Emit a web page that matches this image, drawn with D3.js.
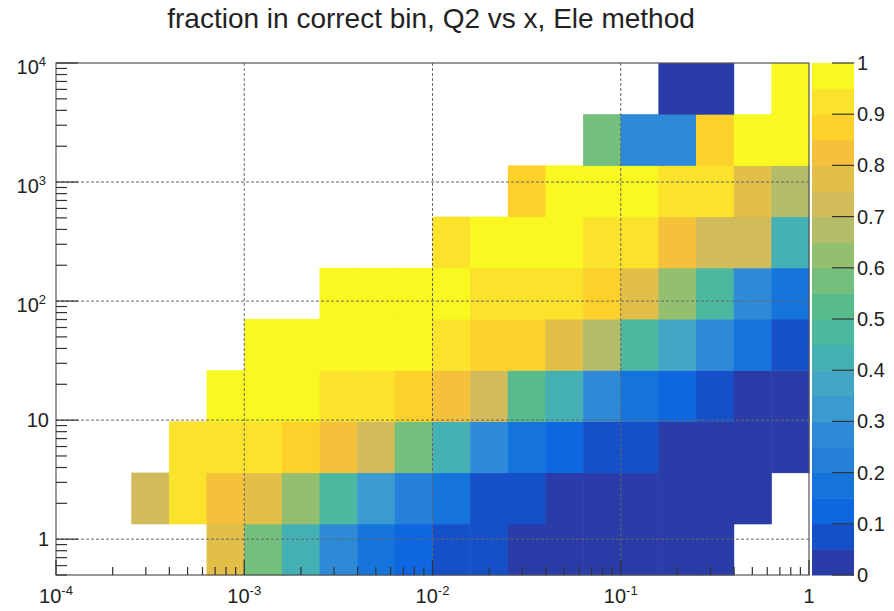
<!DOCTYPE html>
<html>
<head>
<meta charset="utf-8">
<script src="https://cdn.jsdelivr.net/npm/d3@7"></script>
<style>
  body { margin: 0; background: #fff; }
  text { font-family: "Liberation Sans", Arial, Helvetica, sans-serif; fill: #222; }
</style>
</head>
<body>
<div id="chart"></div>
<script>
// histogram binning (log-spaced)
const nx = 20, xMin = 1e-4, xMax = 1;
const ny = 10, yMin = 0.5, yMax = 1e4;

// fraction in correct bin, one array per Q2 row (bottom -> top), 20 x-bins each, null = empty
const row0 = [null, null, null, null, 0.77, 0.57, 0.42, 0.27, 0.17, 0.12, 0.07, 0.07, 0.02, 0.02, 0.02, 0.02, 0.02, 0.02, null, null];
const row1 = [null, null, 0.72, 0.92, 0.82, 0.77, 0.62, 0.47, 0.32, 0.22, 0.17, 0.07, 0.07, 0.02, 0.02, 0.02, 0.02, 0.02, 0.02, null];
const row2 = [null, null, null, 0.92, 0.92, 0.92, 0.87, 0.82, 0.72, 0.57, 0.42, 0.27, 0.17, 0.12, 0.07, 0.07, 0.02, 0.02, 0.02, 0.02];
const row3 = [null, null, null, null, 0.98, 0.98, 0.98, 0.92, 0.92, 0.87, 0.82, 0.72, 0.52, 0.42, 0.27, 0.17, 0.12, 0.07, 0.02, 0.02];
const row4 = [null, null, null, null, null, 0.98, 0.98, 0.98, 0.98, 0.98, 0.92, 0.87, 0.87, 0.77, 0.67, 0.47, 0.37, 0.27, 0.17, 0.07];
const row5 = [null, null, null, null, null, null, null, 0.98, 0.98, 0.98, 0.98, 0.92, 0.92, 0.92, 0.87, 0.77, 0.62, 0.47, 0.27, 0.17];
const row6 = [null, null, null, null, null, null, null, null, null, null, 0.92, 0.98, 0.98, 0.98, 0.92, 0.92, 0.82, 0.72, 0.72, 0.42];
const row7 = [null, null, null, null, null, null, null, null, null, null, null, null, 0.87, 0.98, 0.98, 0.98, 0.92, 0.92, 0.77, 0.67];
const row8 = [null, null, null, null, null, null, null, null, null, null, null, null, null, null, 0.57, 0.27, 0.27, 0.87, 0.98, 0.98];
const row9 = [null, null, null, null, null, null, null, null, null, null, null, null, null, null, null, null, 0.02, 0.02, null, 0.98];
const fracRows = [row0, row1, row2, row3, row4, row5, row6, row7, row8, row9];

// tick labels
const xTickVals = [1e-4, 1e-3, 1e-2, 1e-1, 1];
const xTickBase = ["10", "10", "10", "10", "1"];
const xTickExp = ["-4", "-3", "-2", "-1", null];
const yTickVals = [1, 10, 100, 1000, 10000];
const yTickBase = ["1", "10", "10", "10", "10"];
const yTickExp = [null, null, "2", "3", "4"];
const zTickVals = [0, 0.1, 0.2, 0.3, 0.4, 0.5, 0.6, 0.7, 0.8, 0.9, 1];

// 20 contour colours (bird-like palette), low -> high
const levelColors = [
  '#2a3ca8', '#1650c8', '#0e66e0', '#1474dc', '#2480d8',
  '#2e8ad6', '#3a9bd0', '#42a6c4', '#45b0b4', '#4bb89f',
  '#57bb8c', '#74be7e', '#93bf6e', '#b3bc66', '#d2bb5a',
  '#e2bf48', '#f5c13b', '#fdd12a', '#fbe22b', '#f9f820'
];
const nLevels = levelColors.length;

const W = 894, H = 611;
const padL = 56, padR = 809, padT = 63, padB = 575;
const barX0 = 812, barX1 = 854;
const labelSize = 20, expSize = 13;

let svg = d3.select('#chart').append('svg')
  .attr('width', W).attr('height', H);
svg.append('rect').attr('width', W).attr('height', H).attr('fill', '#fff');

let x = d3.scaleLog().domain([xMin, xMax]).range([padL, padR]);
let y = d3.scaleLog().domain([yMin, yMax]).range([padB, padT]);
let z = d3.scaleLinear().domain([0, 1]).range([padB, padT]);
let color = d3.scaleQuantize().domain([0, 1]).range(levelColors);

let xEdges = d3.range(nx + 1).map(i => xMin * Math.pow(xMax / xMin, i / nx));
let yEdges = d3.range(ny + 1).map(i => yMin * Math.pow(yMax / yMin, i / ny));

let cells = [];
fracRows.forEach(function (row, r) {
  row.forEach(function (v, c) {
    if (v != null) cells.push({r: r, c: c, v: v});
  });
});

// cells
svg.append('g').selectAll('rect')
  .data(cells)
  .enter().append('rect')
  .attr('x', d => x(xEdges[d.c]))
  .attr('y', d => y(yEdges[d.r + 1]))
  .attr('width', d => x(xEdges[d.c + 1]) - x(xEdges[d.c]) + 0.5)
  .attr('height', d => y(yEdges[d.r]) - y(yEdges[d.r + 1]) + 0.5)
  .attr('fill', d => color(d.v));

// grid
let grid = svg.append('g')
  .attr('stroke', '#666').attr('stroke-width', 1).attr('stroke-dasharray', '3,2').attr('fill', 'none');
xTickVals.slice(1, -1).forEach(function (v) {
  grid.append('line').attr('x1', x(v)).attr('x2', x(v)).attr('y1', padT).attr('y2', padB);
});
yTickVals.slice(0, -1).forEach(function (v) {
  grid.append('line').attr('x1', padL).attr('x2', padR).attr('y1', y(v)).attr('y2', y(v));
});

// frame
svg.append('rect')
  .attr('x', padL).attr('y', padT).attr('width', padR - padL).attr('height', padB - padT)
  .attr('fill', 'none').attr('stroke', '#555').attr('stroke-width', 1.2);

// log ticks
function logTicks(lo, hi) {
  let out = [];
  for (let e = Math.floor(Math.log10(lo)); e <= Math.ceil(Math.log10(hi)); e++) {
    for (let m = 1; m <= 9; m++) {
      let v = m * Math.pow(10, e);
      if (v >= lo * 0.999 && v <= hi * 1.001) out.push({v: v, major: m === 1});
    }
  }
  return out;
}

let ticks = svg.append('g').attr('stroke', '#333').attr('stroke-width', 1.2);
logTicks(xMin, xMax).forEach(function (t) {
  ticks.append('line')
    .attr('x1', x(t.v)).attr('x2', x(t.v))
    .attr('y1', padB).attr('y2', padB - (t.major ? 15 : 8));
});
logTicks(yMin, yMax).forEach(function (t) {
  ticks.append('line')
    .attr('x1', padL).attr('x2', padL + (t.major ? 22 : 11))
    .attr('y1', y(t.v)).attr('y2', y(t.v));
});

// axis labels with superscripts
function powLabel(base, exp) {
  let t = svg.append('text').attr('font-size', labelSize);
  t.append('tspan').text(base);
  if (exp) t.append('tspan').attr('font-size', expSize).attr('dy', -8).text(exp);
  return t;
}

xTickVals.forEach(function (v, i) {
  powLabel(xTickBase[i], xTickExp[i])
    .attr('text-anchor', 'middle')
    .attr('x', x(v)).attr('y', 603);
});
yTickVals.forEach(function (v, i) {
  powLabel(yTickBase[i], yTickExp[i])
    .attr('text-anchor', 'end')
    .attr('x', yTickExp[i] ? 46 : 49).attr('y', y(v) + (yTickExp[i] ? 11 : 7));
});

// colour bar
svg.append('g').selectAll('rect')
  .data(levelColors)
  .enter().append('rect')
  .attr('x', barX0)
  .attr('y', (c, l) => z((l + 1) / nLevels))
  .attr('width', barX1 - barX0)
  .attr('height', (c, l) => z(l / nLevels) - z((l + 1) / nLevels) + 0.5)
  .attr('fill', c => c);

let zAxis = svg.append('g');
zTickVals.forEach(function (v) {
  zAxis.append('line')
    .attr('x1', barX1 - 22).attr('x2', barX1)
    .attr('y1', z(v)).attr('y2', z(v))
    .attr('stroke', '#333').attr('stroke-width', 1.2);
  zAxis.append('text')
    .attr('x', barX1 + 3).attr('y', z(v) + 7)
    .attr('font-size', labelSize)
    .text(d3.format('~g')(v));
});

// title
svg.append('text')
  .attr('x', 431).attr('y', 28)
  .attr('text-anchor', 'middle')
  .attr('font-size', 28)
  .text('fraction in correct bin, Q2 vs x, Ele method');
</script>
</body>
</html>
